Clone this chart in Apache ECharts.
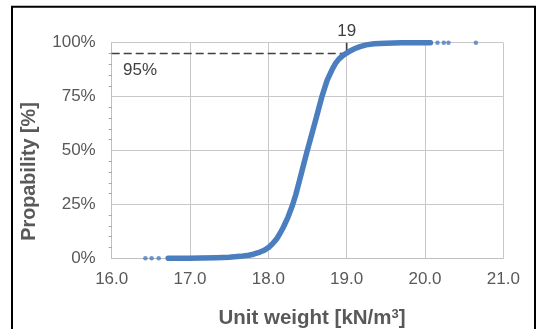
<!DOCTYPE html>
<html>
<head>
<meta charset="utf-8">
<script src="https://cdn.jsdelivr.net/npm/echarts@6/dist/echarts.min.js"></script>
<style>html,body{margin:0;padding:0;background:#fff;}#c{width:538px;height:329px;}</style>
</head>
<body>
<div id="c"></div>
<script>
// Cumulative probability curve (unit weight [kN/m3], probability [%])
var curveX = [16.72, 16.85, 16.98, 17.15, 17.34, 17.5, 17.64, 17.75, 17.81, 17.894, 17.94, 18.0, 18.05, 18.107, 18.15, 18.19, 18.25, 18.307, 18.35, 18.39, 18.44, 18.49, 18.55, 18.6, 18.68, 18.75, 18.82, 18.86, 18.9, 18.95, 19.0, 19.05, 19.107, 19.17, 19.25, 19.35, 19.5, 19.7, 19.85, 20.07];
var curveP = [0, 0, 0.05, 0.1, 0.3, 0.5, 0.9, 1.4, 1.9, 2.9, 3.6, 4.9, 6.6, 9.0, 11.6, 14.3, 19.0, 24.5, 29.5, 35.0, 42.0, 49.0, 57.0, 63.6, 74.5, 82.5, 88.0, 90.5, 92.4, 94.0, 95.2, 96.3, 97.3, 98.2, 99.0, 99.5, 99.8, 99.95, 100, 100];
// isolated sample points in the tails
var tailX = [16.43, 16.51, 16.60, 20.16, 20.24, 20.30, 20.65];
var tailP = [0, 0, 0, 100, 100, 100, 100];
// 95% reference
var refX = [16, 19];
var refP = [95, 95];
var markX = [19, 19];
var markP = [95, 100];
var xTicks = [16, 17, 18, 19, 20, 21];
var yTicks = [0, 25, 50, 75, 100];

function zip(a, b) { return a.map(function (v, i) { return [v, b[i]]; }); }

var chart = echarts.init(document.getElementById('c'), null, {renderer: 'canvas'});
var tickColor = '#595959';
chart.setOption({
  animation: false,
  backgroundColor: '#fff',
  grid: {left: 111.7, right: 34.7, top: 42.7, bottom: 70.7},
  xAxis: {
    type: 'value', min: xTicks[0], max: xTicks[xTicks.length - 1], interval: 1,
    axisLine: {show: true, lineStyle: {color: '#bfbfbf', width: 1}},
    axisTick: {show: false},
    axisLabel: {color: tickColor, fontSize: 17, fontFamily: 'Liberation Sans, Arial', margin: 13,
      formatter: function (v) { return v.toFixed(1); }},
    splitLine: {show: true, lineStyle: {color: '#c8c8c8', width: 1}}
  },
  yAxis: {
    type: 'value', min: yTicks[0], max: yTicks[yTicks.length - 1], interval: 25,
    axisLine: {show: true, lineStyle: {color: '#bfbfbf', width: 1}},
    axisTick: {show: false},
    minorTick: {show: true, splitNumber: 5, length: 3, lineStyle: {color: '#a6a6a6'}},
    axisLabel: {color: tickColor, fontSize: 17, fontFamily: 'Liberation Sans, Arial', margin: 16,
      formatter: '{value}%'},
    splitLine: {show: true, lineStyle: {color: '#c8c8c8', width: 1}}
  },
  series: [
    {type: 'line', data: zip(refX, refP), showSymbol: false, silent: true, z: 3,
      lineStyle: {color: '#404040', width: 1.7, type: [8, 4]}},
    {type: 'line', data: zip(markX, markP), showSymbol: false, silent: true, z: 3,
      lineStyle: {color: '#404040', width: 1.7}},
    {type: 'line', data: zip(curveX, curveP), showSymbol: false, smooth: false, z: 5,
      lineStyle: {color: '#4a7ebf', width: 5.5, cap: 'round', join: 'round'}},
    {type: 'scatter', data: zip(tailX, tailP), symbolSize: 4.5, z: 5,
      itemStyle: {color: '#4a7ebf'}}
  ],
  graphic: [
    {type: 'rect', shape: {x: 12, y: 6.7, width: 523, height: 360}, style: {fill: 'none', stroke: '#000', lineWidth: 2}, z: 100},
    {type: 'text', x: 346.7, y: 31, style: {text: '19', fontSize: 17, fontFamily: 'Liberation Sans, Arial', fill: '#404040', align: 'center', verticalAlign: 'middle'}},
    {type: 'text', x: 123, y: 70, style: {text: '95%', fontSize: 17, fontFamily: 'Liberation Sans, Arial', fill: '#404040', align: 'left', verticalAlign: 'middle'}},
    {type: 'text', x: 29.5, y: 171.5, rotation: Math.PI / 2,
      style: {text: 'Propability [%]', fontSize: 19.8, fontWeight: 'bold', fontFamily: 'Liberation Sans, Arial', fill: '#595959', align: 'center', verticalAlign: 'middle'}},
    {type: 'text', x: 312, y: 318.5,
      style: {text: 'Unit weight [kN/m{sup|3}]', fontSize: 20.5, fontWeight: 'bold', fontFamily: 'Liberation Sans, Arial', fill: '#595959', align: 'center', verticalAlign: 'middle',
        rich: {sup: {fontSize: 13, fontWeight: 'bold', fontFamily: 'Liberation Sans, Arial', fill: '#595959', verticalAlign: 'top', padding: [0, 0, 8, 0]}}}}
  ]
});
</script>
</body>
</html>
